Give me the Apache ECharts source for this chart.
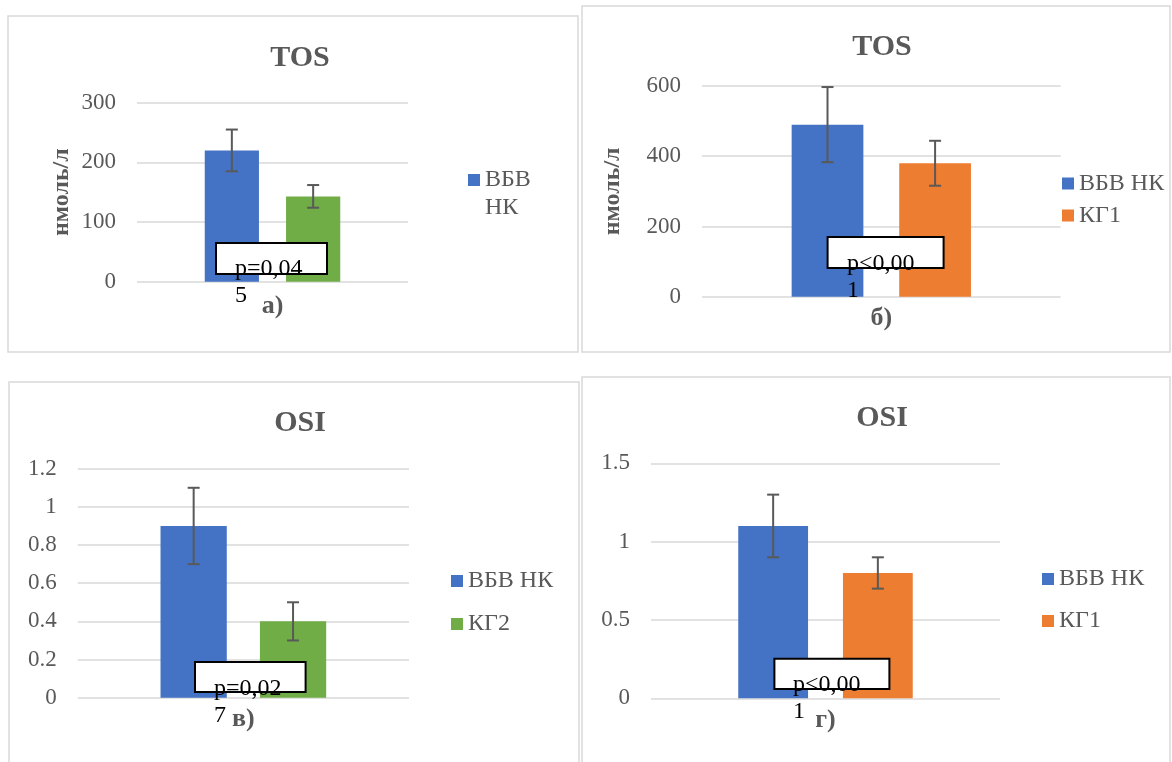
<!DOCTYPE html>
<html>
<head>
<meta charset="utf-8">
<script src="https://cdn.jsdelivr.net/npm/echarts@6/dist/echarts.min.js"></script>
<style>
  html, body { margin: 0; padding: 0; background: #fff; }
  #chart { width: 1172px; height: 762px; }
</style>
</head>
<body>
<div id="chart"></div>
<script>
// Panel captions (category label under each pair of bars)
const panelLabels = ['а)', 'б)', 'в)', 'г)'];
const panelTitles = ['TOS', 'TOS', 'OSI', 'OSI'];
// Group names per panel: [main group, comparison group]
const groupNames = [
  ['ВБВ НК', 'КГ2'],
  ['ВБВ НК', 'КГ1'],
  ['ВБВ НК', 'КГ2'],
  ['ВБВ НК', 'КГ1']
];
// Mean values per panel
const meanValues = [
  [220, 143],
  [490, 380],
  [0.9, 0.4],
  [1.1, 0.8]
];
// Error (± deviation) per panel
const errValues = [
  [35, 19],
  [107, 64],
  [0.2, 0.1],
  [0.2, 0.1]
];
// Y axis ranges
const axisMax = [300, 600, 1.2, 1.5];
const axisStep = [100, 200, 0.2, 0.5];
const unitName = 'нмоль/л';
// Significance annotations
const pTexts = ['p=0,04\n5', 'p<0,00\n1', 'p=0,02\n7', 'p<0,00\n1'];

const FONT = "'Liberation Serif', 'Times New Roman', serif";
const GREY = '#595959';
const GRID_LINE = '#D9D9D9';
const BLUE = '#4472C4';
const SECOND_COLORS = { 'КГ1': '#ED7D31', 'КГ2': '#70AD47' };
const CAT_GAP = 0.5;
const BAR_GAP = 0.5;

// Layout of the four panels
const grids = [
  { left: 137, top: 102.7, width: 271, height: 179 },
  { left: 702, top: 86, width: 358.6, height: 210.7 },
  { left: 77.7, top: 468.7, width: 331.3, height: 229 },
  { left: 651, top: 463.3, width: 349, height: 235 }
];
const titlePos = [[295, 55], [877, 44], [295, 420], [877, 415]];
const labelMargin = [12, 9, 9, 9];
const nameGaps = [63, 77, null, null];
const frames = [
  { x: 8, y: 16, width: 570, height: 336 },
  { x: 582, y: 6, width: 588, height: 346 },
  { x: 9, y: 382, width: 570, height: 420 },
  { x: 582, y: 377, width: 588, height: 425 }
];
const pBoxes = [
  { x: 216, y: 243, w: 111, h: 31, tx: 235, ty: 255.5 },
  { x: 827.6, y: 237, w: 116, h: 31, tx: 847, ty: 250.5 },
  { x: 195, y: 662, w: 110.6, h: 30, tx: 214, ty: 675 },
  { x: 774.4, y: 658.7, w: 115, h: 30.3, tx: 793, ty: 671.5 }
];

function renderErrorBar(params, api) {
  const side = api.value(3);
  const lo = api.coord([api.value(0), api.value(1)]);
  const hi = api.coord([api.value(0), api.value(2)]);
  const band = api.size([1, 0])[0];
  const barW = band * (1 - CAT_GAP) / (2 + BAR_GAP);
  const x = lo[0] + side * (barW + barW * BAR_GAP) / 2;
  const cap = 6;
  const style = { stroke: GREY, lineWidth: 2, fill: null };
  return {
    type: 'group',
    children: [
      { type: 'line', shape: { x1: x, y1: lo[1], x2: x, y2: hi[1] }, style },
      { type: 'line', shape: { x1: x - cap, y1: hi[1], x2: x + cap, y2: hi[1] }, style },
      { type: 'line', shape: { x1: x - cap, y1: lo[1], x2: x + cap, y2: lo[1] }, style }
    ]
  };
}

const legendText = { fontFamily: FONT, fontSize: 24, color: GREY, lineHeight: 24 };

const option = {
  backgroundColor: '#fff',
  animation: false,
  title: panelTitles.map((t, i) => ({
    text: t,
    left: titlePos[i][0],
    top: titlePos[i][1] - 17,
    textAlign: 'center',
    textStyle: { fontFamily: FONT, fontSize: 30, fontWeight: 'bold', color: GREY }
  })),
  legend: [
    {
      data: ['ВБВ НК'], orient: 'vertical', left: 468, top: 138, padding: 0,
      icon: 'rect', itemWidth: 12, itemHeight: 12, selectedMode: false,
      formatter: name => '\n' + name.replace(' ', '\n'),
      textStyle: Object.assign({}, legendText, { lineHeight: 28 })
    },
    {
      data: ['ВБВ НК', 'КГ1'], orient: 'vertical', left: 1062, top: 171.5, padding: 0,
      itemGap: 8, icon: 'rect', itemWidth: 12, itemHeight: 12, selectedMode: false,
      textStyle: legendText
    },
    {
      data: ['ВБВ НК', 'КГ2'], orient: 'vertical', left: 451, top: 569, padding: 0,
      itemGap: 19, icon: 'rect', itemWidth: 12, itemHeight: 12, selectedMode: false,
      textStyle: legendText
    },
    {
      data: ['ВБВ НК', 'КГ1'], orient: 'vertical', left: 1042, top: 567, padding: 0,
      itemGap: 18, icon: 'rect', itemWidth: 12, itemHeight: 12, selectedMode: false,
      textStyle: legendText
    }
  ],
  grid: grids,
  xAxis: panelLabels.map((lab, i) => ({
    type: 'category',
    gridIndex: i,
    data: [lab],
    axisLine: { show: false },
    axisTick: { show: false },
    axisLabel: {
      margin: labelMargin[i],
      fontFamily: FONT, fontSize: 26, fontWeight: 'bold', color: GREY
    }
  })),
  yAxis: axisMax.map((mx, i) => ({
    type: 'value',
    gridIndex: i,
    min: 0,
    max: mx,
    interval: axisStep[i],
    name: nameGaps[i] ? unitName : '',
    nameLocation: 'middle',
    nameGap: nameGaps[i] || 0,
    nameRotate: 90,
    nameTextStyle: { fontFamily: FONT, fontSize: 24, fontWeight: 'bold', color: GREY },
    axisLine: { show: false },
    axisTick: { show: false },
    splitLine: { lineStyle: { color: GRID_LINE, width: 1.5 } },
    axisLabel: { margin: 21, fontFamily: FONT, fontSize: 23, color: GREY }
  })),
  graphic: [
    ...frames.map(f => ({
      type: 'rect', silent: true, z: -10,
      shape: { x: f.x, y: f.y, width: f.width, height: f.height },
      style: { fill: 'none', stroke: GRID_LINE, lineWidth: 1.5 }
    })),
    ...pBoxes.flatMap((b, i) => [
      {
        type: 'rect', z: 100, zlevel: 1,
        shape: { x: b.x, y: b.y, width: b.w, height: b.h },
        style: { fill: '#fff', stroke: '#000', lineWidth: 2 }
      },
      {
        type: 'text', z: 101, zlevel: 1,
        x: b.tx, y: b.ty,
        style: {
          text: pTexts[i], fill: '#000',
          font: "24px 'Liberation Serif', 'Times New Roman', serif",
          lineHeight: 27, align: 'left', verticalAlign: 'top'
        }
      }
    ])
  ],
  series: []
};

meanValues.forEach((pair, i) => {
  pair.forEach((v, k) => {
    const name = groupNames[i][k];
    option.series.push({
      type: 'bar',
      name,
      xAxisIndex: i,
      yAxisIndex: i,
      data: [v],
      barCategoryGap: (CAT_GAP * 100) + '%',
      barGap: (BAR_GAP * 100) + '%',
      itemStyle: { color: k === 0 ? BLUE : SECOND_COLORS[name] }
    });
  });
  option.series.push({
    type: 'custom',
    name: 'error-' + i,
    xAxisIndex: i,
    yAxisIndex: i,
    z: 5,
    renderItem: renderErrorBar,
    encode: { x: 0, y: [1, 2] },
    data: pair.map((v, k) => [0, v - errValues[i][k], v + errValues[i][k], k === 0 ? -1 : 1])
  });
});

const chart = echarts.init(document.getElementById('chart'), null, { renderer: 'canvas' });
chart.setOption(option);
</script>
</body>
</html>
